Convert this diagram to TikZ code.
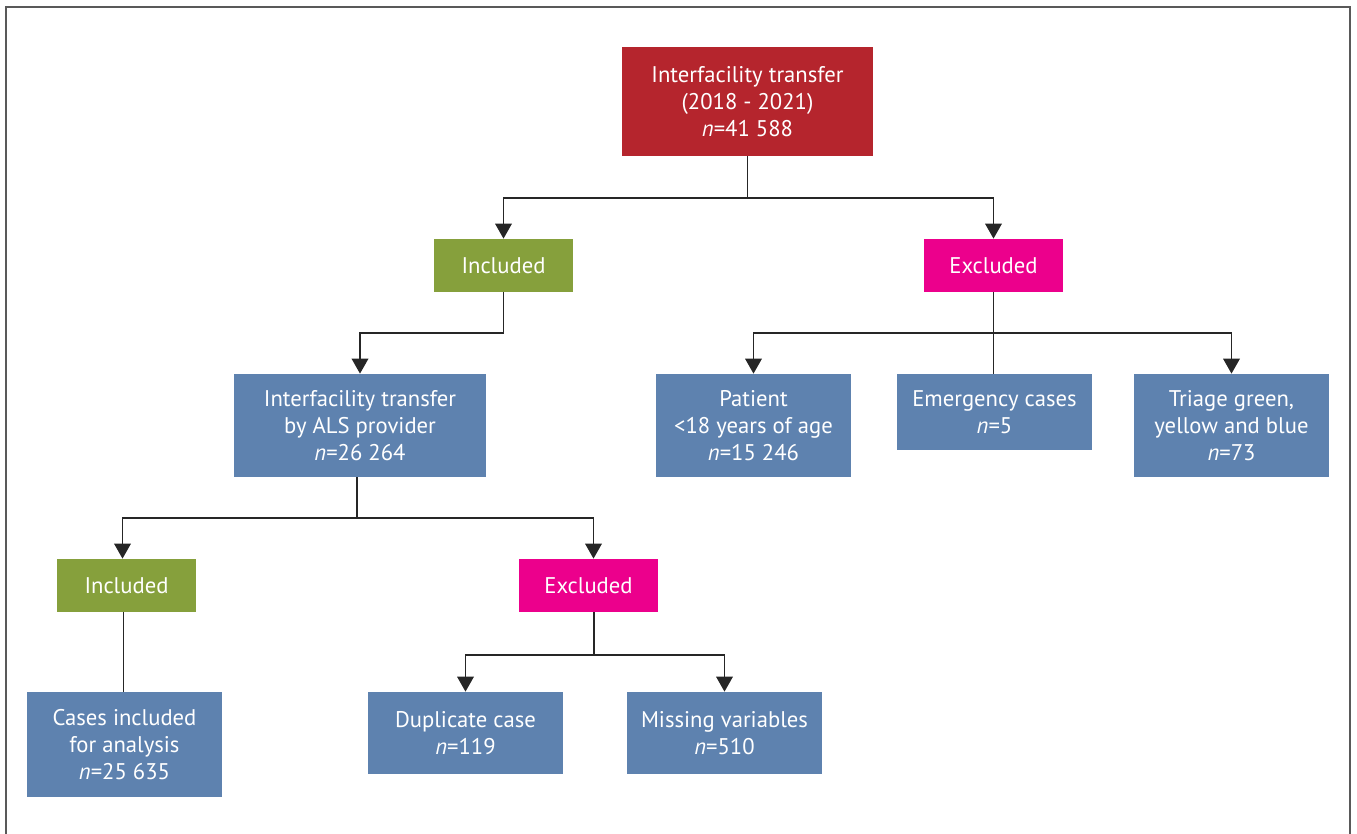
\documentclass[tikz,border=0pt]{standalone}
\usepackage{fontspec}
\setmainfont{PT Sans}
\usepackage{tikz}
\usetikzlibrary{arrows.meta}

\definecolor{boxred}{HTML}{B5252D}
\definecolor{boxgreen}{HTML}{86A03C}
\definecolor{boxpink}{HTML}{EC008C}
\definecolor{boxblue}{HTML}{5E82AF}

\tikzset{
    box/.style={inner sep=0pt, text=white, align=center, font={\fontsize{12.9}{15.4}\selectfont}},
    redbox/.style={box, fill=boxred, minimum width=5.02cm, minimum height=2.18cm},
    greenbox/.style={box, fill=boxgreen, minimum width=2.78cm, minimum height=1.06cm},
    pinkbox/.style={box, fill=boxpink, minimum width=2.78cm, minimum height=1.06cm},
    bluebox/.style={box, fill=boxblue, minimum width=3.9cm},
    link/.style={line width=1.1pt, color=black!85},
    arr/.style={link, -{Triangle[width=0.33cm, length=0.3cm]}}
}

\begin{document}
\begin{tikzpicture}[x=0.02cm, y=-0.02cm]
        \useasboundingbox (0,0) rectangle (1357,834);
        \draw[line width=1.2pt, color=black!65] (6,834) -- (6,7) -- (1350,7) -- (1350,834);

        \node[redbox] (all) at (747.5, 101.5) {Interfacility transfer\\(2018 - 2021)\\\textit{n}=41 588};

        \node[greenbox] (inc1) at (503.5, 265.5) {Included};
        \node[pinkbox] (exc1) at (993.5, 265.5) {Excluded};

        \node[bluebox, minimum width=5.04cm, minimum height=2.06cm] (als) at (360, 425.5) {Interfacility transfer\\by ALS provider\\\textit{n}=26 264};
        \node[bluebox, minimum height=2.06cm] (age) at (753.5, 425.5) {Patient\\<18 years of age\\\textit{n}=15 246};
        \node[bluebox, minimum height=1.52cm] (emerg) at (994.5, 412) {Emergency cases\\\textit{n}=5};
        \node[bluebox, minimum height=2.06cm] (triage) at (1231.5, 425.5) {Triage green,\\yellow and blue\\\textit{n}=73};

        \node[greenbox] (inc2) at (126.5, 585.5) {Included};
        \node[pinkbox] (exc2) at (588.5, 585.5) {Excluded};

        \node[bluebox, minimum height=2.1cm] (final) at (124.5, 744.5) {Cases included\\for analysis\\\textit{n}=25 635};
        \node[bluebox, minimum height=1.64cm] (dup) at (465.5, 733) {Duplicate case\\\textit{n}=119};
        \node[bluebox, minimum height=1.64cm] (miss) at (724.5, 733) {Missing variables\\\textit{n}=510};

        % branch points
        \coordinate (j1) at (747.5, 198);
        \coordinate (j2) at (503.5, 333);
        \coordinate (j3) at (993.5, 333);
        \coordinate (j4) at (357, 518);
        \coordinate (j5) at (594, 655);

        \draw[link] (all.south) -- (j1);
        \draw[arr] (j1) -| (inc1.north);
        \draw[arr] (j1) -| (exc1.north);

        \draw[link] (inc1.south) -- (j2);
        \draw[arr] (j2) -| (als.north);

        \draw[link] (exc1.south) -- (exc1.south |- emerg.north);
        \draw[arr] (j3) -| (age.north);
        \draw[arr] (j3) -| (triage.north);

        \draw[link] (als.south -| j4) -- (j4);
        \draw[arr] (j4) -| ([xshift=-0.08cm]inc2.north);
        \draw[arr] (j4) -| ([xshift=0.1cm]exc2.north);

        \draw[link] ([xshift=-0.06cm]inc2.south) -- ([xshift=-0.06cm]inc2.south |- final.north);

        \draw[link] (exc2.south -| j5) -- (j5);
        \draw[arr] (j5) -| (dup.north);
        \draw[arr] (j5) -| (miss.north);
    \end{tikzpicture}
\end{document}
